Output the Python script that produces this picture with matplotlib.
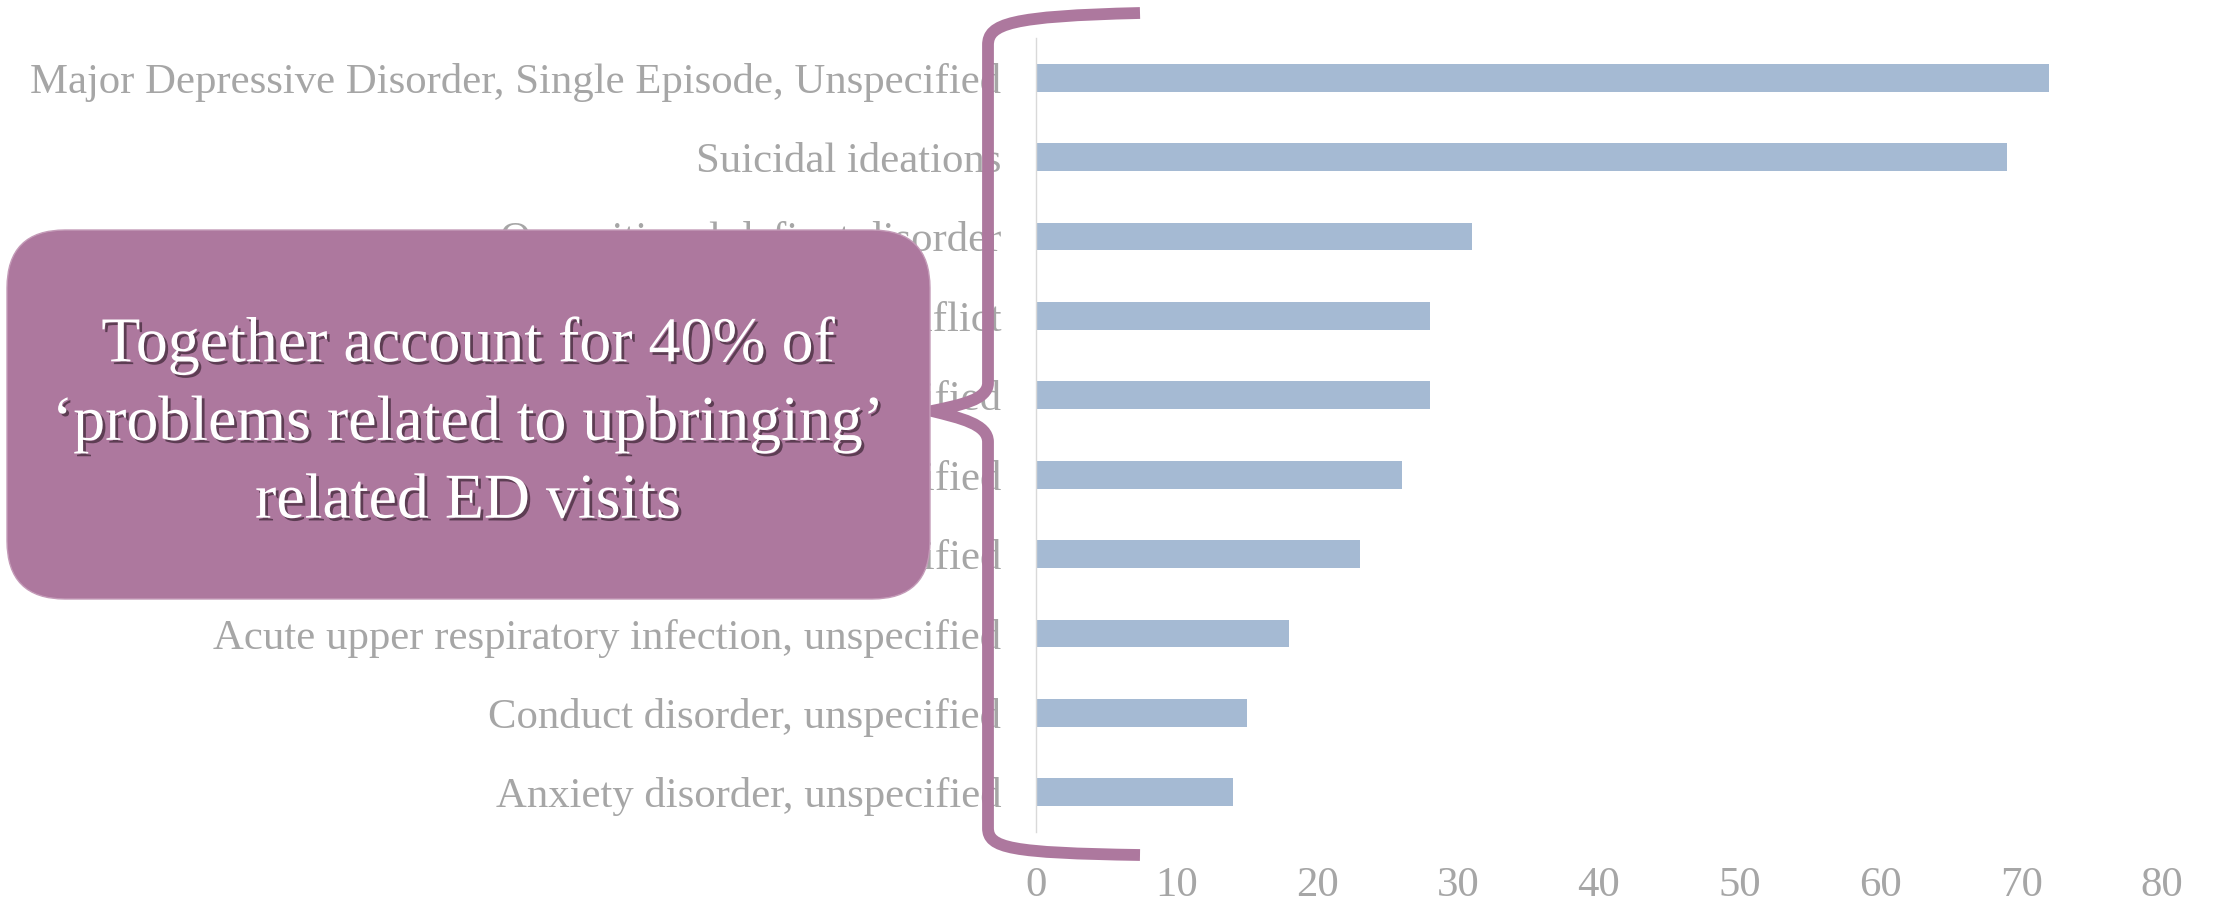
import matplotlib.pyplot as plt
from matplotlib.patches import FancyBboxPatch, PathPatch
from matplotlib.path import Path
import matplotlib.patheffects as pe

### data ###
diagnoses = [
    'Major Depressive Disorder, Single Episode, Unspecified',
    'Suicidal ideations',
    'Oppositional defiant disorder',
    'Parent-child conflict',
    'Problems related to upbringing, unspecified',
    'Adjustment disorder, unspecified',
    'Attention-deficit hyperactivity disorder, unspecified',
    'Acute upper respiratory infection, unspecified',
    'Conduct disorder, unspecified',
    'Anxiety disorder, unspecified',
]
visits = [72, 69, 31, 28, 28, 26, 23, 18, 15, 14]
xticks = [0, 10, 20, 30, 40, 50, 60, 70, 80]

callout = "Together account for 40% of\n\u2018problems related to upbringing\u2019\nrelated ED visits"

bar_color = '#a5bad3'
purple = '#ad789e'
grey = '#a6a6a6'

W, H = 2216, 907
plt.rcParams['font.family'] = ['Liberation Serif', 'DejaVu Serif']

fig = plt.figure(figsize=(W / 100, H / 100), dpi=100)
ax = fig.add_axes([1036 / W, 1 - 832 / H, (2162 - 1036) / W, (832 - 38) / H])

ypos = list(range(len(diagnoses)))
ax.barh(ypos, visits, height=0.35, color=bar_color, zorder=2)
ax.set_ylim(len(diagnoses) - 0.5, -0.5)
ax.set_xlim(0, 80)
ax.set_xticks(xticks)
ax.set_yticks(ypos)
ax.set_yticklabels(diagnoses)
ax.tick_params(axis='both', length=0, labelsize=30.8, labelcolor=grey)
ax.tick_params(axis='y', pad=25)
ax.tick_params(axis='x', pad=25)
for s in ['top', 'right', 'bottom']:
    ax.spines[s].set_visible(False)
ax.spines['left'].set_color('#d9d9d9')
ax.spines['left'].set_linewidth(1)

### pixel helper (x right, y down) -> figure fraction
def px(x, y):
    return (x / W, 1 - y / H)

### curly brace
verts = [px(1140, 13), px(1010, 16), px(988, 24), px(988, 45),
         px(988, 383),
         px(988, 400), px(960, 405), px(932, 411),
         px(960, 418), px(988, 424), px(988, 442),
         px(988, 828),
         px(988, 848), px(1010, 853), px(1140, 855)]
codes = [Path.MOVETO, Path.CURVE4, Path.CURVE4, Path.CURVE4,
         Path.LINETO,
         Path.CURVE4, Path.CURVE4, Path.CURVE4,
         Path.CURVE4, Path.CURVE4, Path.CURVE4,
         Path.LINETO,
         Path.CURVE4, Path.CURVE4, Path.CURVE4]
brace = PathPatch(Path(verts, codes), transform=fig.transFigure, fill=False,
                  edgecolor=purple, lw=8.5, capstyle='butt', joinstyle='round', zorder=10)
fig.patches.append(brace)

### rounded callout box, in display pixels (y up)
r = 58
box = FancyBboxPatch((7 + r, H - 599 + r), 930 - 7 - 2 * r, 599 - 230 - 2 * r,
                     boxstyle=f'round,pad={r},rounding_size={r}',
                     transform=None, facecolor=purple, edgecolor='#c49bb8', lw=1, zorder=11)
fig.patches.append(box)

fig.text(468 / W, 1 - 424 / H, callout, ha='center', va='center', color='white',
         fontsize=46, linespacing=1.45, zorder=12,
         path_effects=[pe.SimplePatchShadow(offset=(2, -2), shadow_rgbFace='#3b2434', alpha=0.7),
                       pe.Normal()])

fig.savefig('out.png', dpi=100)
